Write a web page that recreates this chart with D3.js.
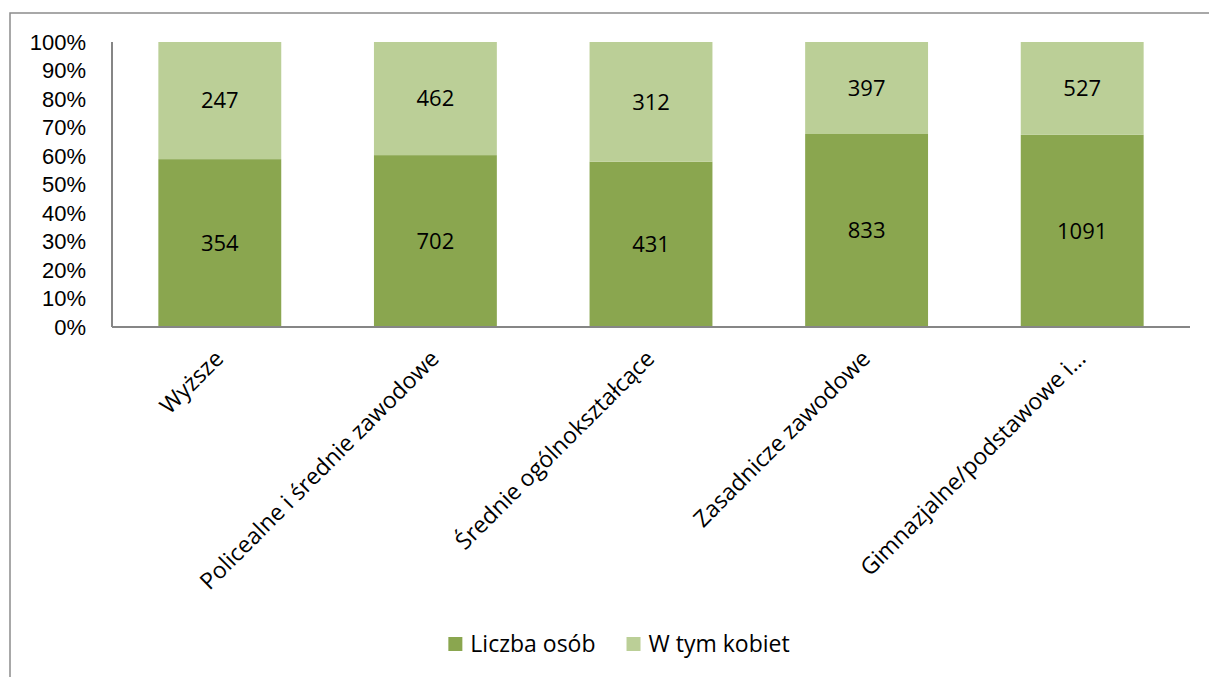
<!DOCTYPE html>
<html>
<head>
<meta charset="utf-8">
<script src="https://cdn.jsdelivr.net/npm/d3@7"></script>
<style>
  body { margin: 0; background: #fff; }
  svg { display: block; font-family: 'Open Sans', Lato, sans-serif; }
  .axis text { font-size: 22px; fill: #000; }
  .axis.cat text { font-size: 23px; }
</style>
</head>
<body>
<div id="chart"></div>
<script>
// Data
const categories = ['Wyższe', 'Policealne i średnie zawodowe', 'Średnie ogólnokształcące', 'Zasadnicze zawodowe', 'Gimnazjalne/podstawowe i…']
const liczbaOsob = [354, 702, 431, 833, 1091]
const wTymKobiet = [247, 462, 312, 397, 527]
const seriesNames = ['Liczba osób', 'W tym kobiet']
const yTicks = [0, 0.1, 0.2, 0.3, 0.4, 0.5, 0.6, 0.7, 0.8, 0.9, 1]

const colors = ['#8aa64f', '#bbcf97']

// Dimensions
let dimensions = {
  width: 1209,
  height: 677,
  margin: { top: 42, left: 112, right: 19, bottom: 350 }
}
dimensions.containerWidth = dimensions.width - dimensions.margin.left - dimensions.margin.right
dimensions.containerHeight = dimensions.height - dimensions.margin.top - dimensions.margin.bottom

const rows = categories.map((c, i) => ({ category: c, a: liczbaOsob[i], b: wTymKobiet[i] }))
const stack = d3.stack().keys(['a', 'b']).offset(d3.stackOffsetExpand)
const stacked = stack(rows)

const svg = d3.select('#chart')
  .append('svg')
  .attr('width', dimensions.width)
  .attr('height', dimensions.height)

// outer chart frame (runs off the right and bottom edge)
svg.append('rect')
  .attr('x', 10)
  .attr('y', 13)
  .attr('width', dimensions.width + 20)
  .attr('height', dimensions.height + 20)
  .attr('fill', 'none')
  .attr('stroke', '#8c8c8c')
  .attr('stroke-width', 1.5)

const container = svg.append('g')
  .attr('transform', `translate(${dimensions.margin.left}, ${dimensions.margin.top})`)

// Scales
const xScale = d3.scaleBand()
  .domain(categories)
  .range([0, dimensions.containerWidth])
  .paddingInner(0.43)
  .paddingOuter(0.215)

const yScale = d3.scaleLinear()
  .domain([0, 1])
  .range([dimensions.containerHeight, 0])

// Bars
const layers = container.selectAll('g.layer')
  .data(stacked)
  .join('g')
  .attr('class', 'layer')
  .attr('fill', (d, i) => colors[i])

layers.selectAll('rect')
  .data(d => d)
  .join('rect')
  .attr('x', d => xScale(d.data.category))
  .attr('y', d => yScale(d[1]))
  .attr('width', xScale.bandwidth())
  .attr('height', d => yScale(d[0]) - yScale(d[1]))

// Value labels
stacked.forEach((layer, li) => {
  container.append('g')
    .selectAll('text')
    .data(layer)
    .join('text')
    .attr('x', d => xScale(d.data.category) + xScale.bandwidth() / 2)
    .attr('y', d => yScale((d[0] + d[1]) / 2))
    .attr('dy', '0.36em')
    .attr('text-anchor', 'middle')
    .style('font-size', '22px')
    .text(d => d.data[layer.key])
})

// Axes
const yAxis = d3.axisLeft(yScale)
  .tickValues(yTicks)
  .tickFormat(d3.format('.0%'))
  .tickSize(0)
  .tickPadding(26)

const yAxisGroup = container.append('g')
  .attr('class', 'axis')
  .call(yAxis)
yAxisGroup.select('.domain').remove()

const lineColor = '#868686'
container.append('line')
  .attr('x1', 0).attr('x2', 0)
  .attr('y1', 0).attr('y2', dimensions.containerHeight)
  .attr('stroke', lineColor).attr('stroke-width', 2)
container.append('line')
  .attr('x1', 0).attr('x2', dimensions.containerWidth)
  .attr('y1', dimensions.containerHeight).attr('y2', dimensions.containerHeight)
  .attr('stroke', lineColor).attr('stroke-width', 2)

// Category labels, rotated
container.append('g')
  .attr('class', 'axis cat')
  .selectAll('text')
  .data(categories)
  .join('text')
  .attr('transform', d => `translate(${xScale(d) + xScale.bandwidth() / 2 + 5}, ${dimensions.containerHeight + 33}) rotate(-45)`)
  .attr('text-anchor', 'end')
  .text(d => d)

// Legend
const legend = svg.append('g')
const legendItems = legend.selectAll('g')
  .data(seriesNames)
  .join('g')

legendItems.append('rect')
  .attr('width', 14)
  .attr('height', 14)
  .attr('y', -7)
  .attr('fill', (d, i) => colors[i])

legendItems.append('text')
  .attr('x', 22)
  .attr('dy', '0.36em')
  .style('font-size', '23px')
  .text(d => d)

let offset = 0
legendItems.each(function () {
  const w = this.querySelector('text').getComputedTextLength()
  d3.select(this).attr('transform', `translate(${offset}, 0)`)
  offset += 22 + w + 31
})
const legendWidth = offset - 31
legend.attr('transform', `translate(${619 - legendWidth / 2}, 644)`)
</script>
</body>
</html>
